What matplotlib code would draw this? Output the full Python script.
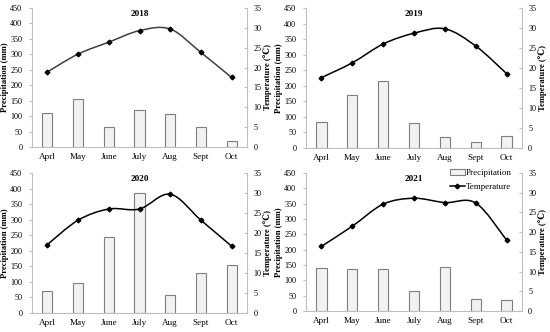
import numpy as np
import matplotlib
matplotlib.use("Agg")
from matplotlib import pyplot as plt
from matplotlib.path import Path
from matplotlib.patches import PathPatch, Patch
from matplotlib.lines import Line2D

months = ["Aprl", "May", "June", "July", "Aug", "Sept", "Oct"]
years = ["2018", "2019", "2020", "2021"]

precip_2018 = [110, 154, 65, 121, 108, 64, 18]
precip_2019 = [84, 170, 215, 81, 35, 20, 40]
precip_2020 = [72, 97, 245, 385, 59, 127, 153]
precip_2021 = [140, 136, 138, 65, 145, 38, 37]

temp_2018 = [18.9, 23.4, 26.4, 29.3, 29.7, 23.8, 17.5]
temp_2019 = [17.6, 21.3, 26.0, 28.7, 29.8, 25.5, 18.6]
temp_2020 = [17.1, 23.2, 26.0, 26.0, 29.7, 23.2, 16.7]
temp_2021 = [16.4, 21.5, 27.1, 28.6, 27.5, 27.4, 18.0]

precip = [precip_2018, precip_2019, precip_2020, precip_2021]
temps = [temp_2018, temp_2019, temp_2020, temp_2021]
line_colors = ["#404040", "black", "black", "black"]

plt.rcParams["font.family"] = ["Liberation Serif", "DejaVu Serif"]

SPINE = "#bfbfbf"
YTICK_FS = 5.9
XTICK_FS = 6.6
LABEL_FS = 6.2


def smooth_path(x, y, tension=1 / 6):
    # Excel-like smoothed line: cubic bezier segments through the points
    pts = np.column_stack([np.asarray(x, float), np.asarray(y, float)])
    verts = [pts[0]]
    codes = [Path.MOVETO]
    n = len(pts)
    for i in range(n - 1):
        p0 = pts[i - 1] if i > 0 else pts[i]
        p1 = pts[i]
        p2 = pts[i + 1]
        p3 = pts[i + 2] if i + 2 < n else pts[i + 1]
        verts += [p1 + (p2 - p0) * tension, p2 - (p3 - p1) * tension, p2]
        codes += [Path.CURVE4] * 3
    return Path(verts, codes)


fig = plt.figure(figsize=(5.5, 3.32), dpi=100)
W, H = 550, 332
boxes = [(32, 8, 247, 147), (306, 8, 522, 148), (32, 173, 247, 313), (306, 173, 522, 311)]

x = np.arange(len(months))
for k, (x0, y0, x1, y1) in enumerate(boxes):
    ax = fig.add_axes([x0 / W, 1 - y1 / H, (x1 - x0) / W, (y1 - y0) / H])
    ax.bar(x, precip[k], width=0.33, color="#f2f2f2", edgecolor="#7f7f7f", linewidth=0.8, zorder=2)
    ax.set_ylim(0, 450)
    ax.set_yticks(range(0, 451, 50))
    ax.set_xlim(-0.5, len(months) - 0.5)
    ax.set_xticks(x)
    ax.set_xticklabels(months, fontsize=XTICK_FS)
    ax.tick_params(axis="x", length=0, pad=4)
    ax.tick_params(axis="y", length=2, color=SPINE, pad=5, labelsize=YTICK_FS)
    ax.set_ylabel("Precipitation (mm)", fontweight="bold", fontsize=LABEL_FS, labelpad=1)
    for s in ("top", "right"):
        ax.spines[s].set_visible(False)
    for s in ("left", "bottom"):
        ax.spines[s].set_color(SPINE)
        ax.spines[s].set_linewidth(0.8)
    ax.text(0.5, 0.96, years[k], transform=ax.transAxes, ha="center", va="center",
            fontweight="bold", fontsize=6.6)

    ax2 = ax.twinx()
    ax2.set_ylim(0, 35)
    ax2.set_yticks(range(0, 36, 5))
    ax2.tick_params(axis="y", direction="in", length=2, color=SPINE, pad=4.5, labelsize=YTICK_FS)
    ax2.set_ylabel("Temperature (\u2103)", fontweight="bold", fontsize=LABEL_FS,
                   rotation=90, labelpad=1.5)
    for s in ("top", "left", "bottom"):
        ax2.spines[s].set_visible(False)
    ax2.spines["right"].set_color(SPINE)
    ax2.spines["right"].set_linewidth(0.8)
    ax2.add_patch(PathPatch(smooth_path(x, temps[k]), facecolor="none",
                            edgecolor=line_colors[k], linewidth=1.1, zorder=3))
    ax2.plot(x, temps[k], linestyle="none", marker="D", markersize=2.4,
             color="black", zorder=4)

    if k == 3:
        handles = [Patch(facecolor="#f2f2f2", edgecolor="#7f7f7f", linewidth=0.8),
                   Line2D([], [], color="black", linewidth=1.1, marker="D", markersize=2.4)]
        ax2.legend(handles, ["Precipitation", "Temperature"], loc="upper right",
                   frameon=False, fontsize=6.4, handlelength=1.7, handleheight=0.6,
                   handletextpad=0.1, borderaxespad=0.0, borderpad=0.2,
                   labelspacing=0.6, bbox_to_anchor=(0.96, 1.04))

fig.savefig("out.png", dpi=100)
